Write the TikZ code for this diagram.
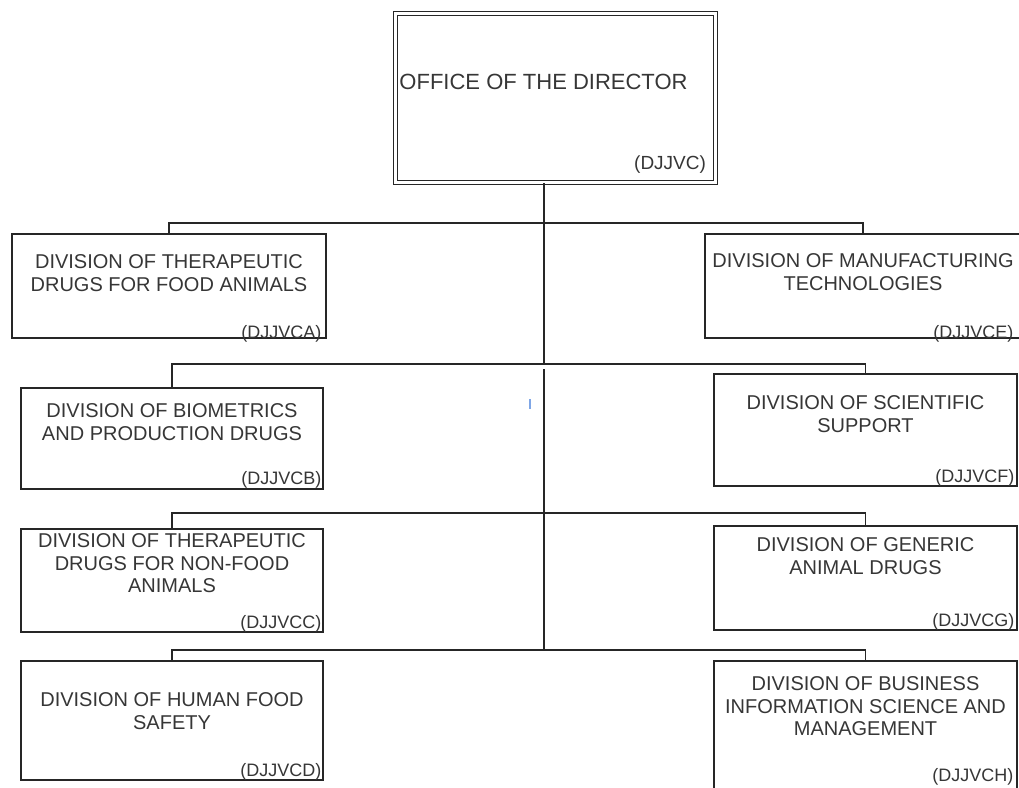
\documentclass[tikz,border=0pt]{standalone}
\usepackage{fontspec}
\setmainfont{Liberation Sans}
\usetikzlibrary{positioning}
\definecolor{linegray}{HTML}{262626}
\definecolor{textgray}{HTML}{363636}
\definecolor{cursorblue}{HTML}{7FA6E6}

\begin{document}
\begin{tikzpicture}[
            x=1pt, y=-1pt,
            unit/.style={draw=linegray, line width=1.3pt, inner sep=0pt},
            office/.style={unit, double, double distance=3pt},
            title/.style={font=\fontsize{20}{22.5}\selectfont, text=textgray, align=center, inner sep=0pt},
            code/.style={font=\fontsize{18}{20}\selectfont, text=textgray, inner sep=0pt, anchor=base east},
            link/.style={draw=linegray, line width=1.3pt},
            cursor/.style={draw=cursorblue, line width=1.2pt}
        ]
            \useasboundingbox (0,0) rectangle (1019,787);
            \clip (0,0) rectangle (1019,787);

            % Office of the director
            \node[office, minimum width=320, minimum height=169] (dir) at (555.5,98) {};
            \node[title, font=\fontsize{22}{24}\selectfont, below=61pt of dir.north, xshift=-12pt] (dir-title) {OFFICE OF THE DIRECTOR};
            \node[code, font=\fontsize{19}{21}\selectfont] (dir-code) at ([xshift=-10pt, yshift=14pt]dir.south east) {(DJJVC)};

            % Spine junctions
            \coordinate (j1) at (544,223);
            \coordinate (j2) at (544,364);
            \coordinate (j3) at (544,513);
            \coordinate (j4) at (544,650);

            % Left column
            \node[unit, minimum width=314, minimum height=104] (a) at (169,286) {};
            \node[title, below=21pt of a.north] (a-title) {DIVISION OF THERAPEUTIC\\DRUGS FOR FOOD ANIMALS};
            \node[code] (a-code) at ([xshift=-5pt]a.south east) {(DJJVCA)};

            \node[unit, minimum width=302, minimum height=101] (b) at (172,438.5) {};
            \node[title, below=16pt of b.north] (b-title) {DIVISION OF BIOMETRICS\\AND PRODUCTION DRUGS};
            \node[code] (b-code) at ([xshift=-2pt, yshift=5pt]b.south east) {(DJJVCB)};

            \node[unit, minimum width=302, minimum height=103] (c) at (172,580.5) {};
            \node[title, below=5pt of c.north] (c-title) {DIVISION OF THERAPEUTIC\\DRUGS FOR NON-FOOD\\ANIMALS};
            \node[code] (c-code) at ([xshift=-2pt, yshift=4pt]c.south east) {(DJJVCC)};

            \node[unit, minimum width=302, minimum height=119] (d) at (172,720.5) {};
            \node[title, below=32pt of d.north] (d-title) {DIVISION OF HUMAN FOOD\\SAFETY};
            \node[code] (d-code) at ([xshift=-2pt, yshift=4pt]d.south east) {(DJJVCD)};

            % Right column
            \node[unit, minimum width=316, minimum height=104] (e) at (863,286) {};
            \node[title, below=20pt of e.north] (e-title) {DIVISION OF MANUFACTURING\\TECHNOLOGIES};
            \node[code] (e-code) at ([xshift=-8pt]e.south east) {(DJJVCE)};

            \node[unit, minimum width=303, minimum height=112] (f) at (865.5,430) {};
            \node[title, below=22pt of f.north] (f-title) {DIVISION OF SCIENTIFIC\\SUPPORT};
            \node[code] (f-code) at ([xshift=-3pt, yshift=4pt]f.south east) {(DJJVCF)};

            \node[unit, minimum width=303, minimum height=104] (g) at (865.5,578) {};
            \node[title, below=12pt of g.north] (g-title) {DIVISION OF GENERIC\\ANIMAL DRUGS};
            \node[code] (g-code) at ([xshift=-3pt, yshift=4pt]g.south east) {(DJJVCG)};

            \node[unit, minimum width=303, minimum height=139] (h) at (865.5,730.5) {};
            \node[title, below=16pt of h.north] (h-title) {DIVISION OF BUSINESS\\INFORMATION SCIENCE AND\\MANAGEMENT};
            \node[code] (h-code) at ([xshift=-4pt, yshift=19pt]h.south east) {(DJJVCH)};

            % Spine
            \draw[link] (dir.south -| j1) -- (j2);
            \draw[link] ([yshift=-5pt]j2) -- (j4);

            % Branches
            \draw[link] (a.north) |- (j1) -| (e.north);
            \draw[link] (b.north) |- (j2) -| (f.north);
            \draw[link] (c.north) |- (j3) -| (g.north);
            \draw[link] (d.north) |- (j4) -| (h.north);

            % Stray mark
            \draw[cursor] (530,399) -- (530,409);
        \end{tikzpicture}
\end{document}
